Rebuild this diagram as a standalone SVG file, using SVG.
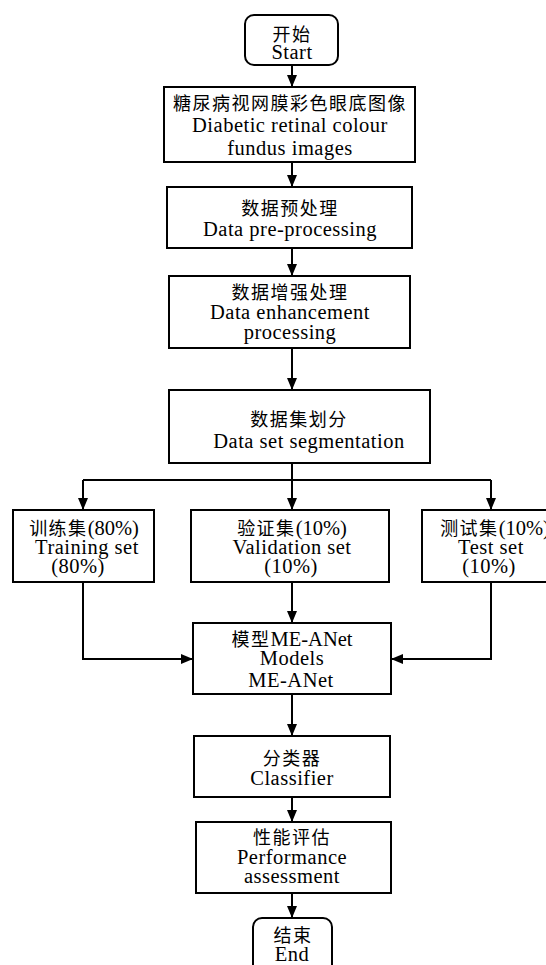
<svg xmlns="http://www.w3.org/2000/svg" width="546" height="965" viewBox="0 0 546 965">
<style>
.box{fill:#fff;stroke:#000;stroke-width:2}
.cn{font-family:"Noto Sans CJK SC","Noto Sans CJK JP",sans-serif;font-size:18px;letter-spacing:1.5px;text-anchor:middle;fill:#000}
.en{font-family:"Liberation Serif","Times New Roman",serif;font-size:20.5px;letter-spacing:0.5px;text-anchor:middle;fill:#000}
.mix{font-family:"Liberation Serif","Noto Sans CJK SC",serif;font-size:20.5px;text-anchor:middle;fill:#000}
.ln{fill:none;stroke:#000;stroke-width:2}
</style>
<defs>
<marker id="ah" markerWidth="12" markerHeight="12" viewBox="0 0 12 12" refX="12" refY="6" orient="auto" markerUnits="userSpaceOnUse">
<path d="M0,1 L12,6 L0,11 Z" fill="#000"/>
</marker>
</defs>
<rect width="546" height="965" fill="#fff"/>
<g id="connectors">
<path class="ln" d="M292,65 V87" marker-end="url(#ah)"/>
<path class="ln" d="M292,162 V187" marker-end="url(#ah)"/>
<path class="ln" d="M292,248 V276" marker-end="url(#ah)"/>
<path class="ln" d="M292,348 V390" marker-end="url(#ah)"/>
<path class="ln" d="M292,463 V480 M83,480 H491"/>
<path class="ln" d="M83,480 V510" marker-end="url(#ah)"/>
<path class="ln" d="M292,480 V510" marker-end="url(#ah)"/>
<path class="ln" d="M491,480 V510" marker-end="url(#ah)"/>
<path class="ln" d="M83,582 V659 H193" marker-end="url(#ah)"/>
<path class="ln" d="M491,582 V659 H391" marker-end="url(#ah)"/>
<path class="ln" d="M292,582 V623" marker-end="url(#ah)"/>
<path class="ln" d="M292,694 V736" marker-end="url(#ah)"/>
<path class="ln" d="M292,797 V822" marker-end="url(#ah)"/>
<path class="ln" d="M292,893 V918" marker-end="url(#ah)"/>
</g>
<g id="start">
<rect class="box" x="245" y="15" width="93" height="50" rx="9"/>
<text class="cn" x="292" y="41">开始</text>
<text class="en" x="292" y="59">Start</text>
</g>
<g id="images">
<rect class="box" x="164" y="87" width="251" height="75"/>
<text class="cn" x="290" y="110">糖尿病视网膜彩色眼底图像</text>
<text class="en" x="290" y="132">Diabetic retinal colour</text>
<text class="en" x="290" y="155">fundus images</text>
</g>
<g id="preprocess">
<rect class="box" x="167" y="187" width="245" height="61"/>
<text class="cn" x="290" y="215">数据预处理</text>
<text class="en" x="290" y="236">Data pre-processing</text>
</g>
<g id="enhance">
<rect class="box" x="169" y="276" width="241" height="72"/>
<text class="cn" x="290" y="299">数据增强处理</text>
<text class="en" x="290" y="319">Data enhancement</text>
<text class="en" x="290" y="339">processing</text>
</g>
<g id="segmentation">
<rect class="box" x="169" y="390" width="261" height="73"/>
<text class="cn" x="299" y="426">数据集划分</text>
<text class="en" x="309" y="448">Data set segmentation</text>
</g>
<g id="training">
<rect class="box" x="13" y="510" width="141" height="72"/>
<text class="mix" x="84" y="535"><tspan class="cn" style="font-size:18px">训练集</tspan>(80%)</text>
<text class="en" x="87" y="554">Training set</text>
<text class="en" x="78" y="573">(80%)</text>
</g>
<g id="validation">
<rect class="box" x="191" y="510" width="198" height="72"/>
<text class="mix" x="292" y="535"><tspan class="cn" style="font-size:18px">验证集</tspan>(10%)</text>
<text class="en" x="292" y="554">Validation set</text>
<text class="en" x="291" y="573">(10%)</text>
</g>
<g id="test">
<rect class="box" x="422" y="510" width="140" height="72"/>
<text class="mix" x="495" y="535"><tspan class="cn" style="font-size:18px">测试集</tspan>(10%)</text>
<text class="en" x="491" y="554">Test set</text>
<text class="en" x="489" y="573">(10%)</text>
</g>
<g id="model">
<rect class="box" x="193" y="623" width="198" height="71"/>
<text class="mix" x="292" y="646"><tspan class="cn" style="font-size:18px">模型</tspan>ME-ANet</text>
<text class="en" x="292" y="665">Models</text>
<text class="en" x="291" y="687">ME-ANet</text>
</g>
<g id="classifier">
<rect class="box" x="194" y="736" width="196" height="61"/>
<text class="cn" x="292" y="765">分类器</text>
<text class="en" x="292" y="785">Classifier</text>
</g>
<g id="assessment">
<rect class="box" x="196" y="822" width="195" height="71"/>
<text class="cn" x="292" y="844">性能评估</text>
<text class="en" x="292" y="864">Performance</text>
<text class="en" x="292" y="883">assessment</text>
</g>
<g id="end">
<rect class="box" x="253" y="918" width="79" height="56" rx="9"/>
<text class="cn" x="293" y="942">结束</text>
<text class="en" x="292" y="961">End</text>
</g>
</svg>
